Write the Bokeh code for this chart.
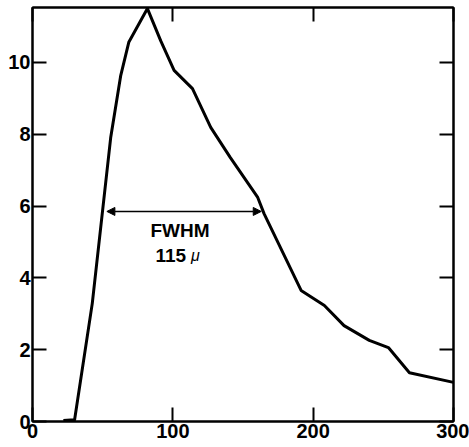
from bokeh.plotting import figure
from bokeh.models import Range1d, LinearAxis, FixedTicker, Label, Arrow, NormalHead
from bokeh.embed import file_html
from bokeh.resources import INLINE

# Data
pos = [22, 30, 42.6, 55.7, 62.9, 68.6, 81.9, 91.4, 100.9, 114, 127, 141,
       160.5, 165, 191.4, 208, 222, 240, 253.6, 268.6, 300]
intensity = [0.03, 0.05, 3.29, 7.9, 9.64, 10.56, 11.5, 10.6, 9.78, 9.27, 8.19,
             7.35, 6.24, 5.79, 3.65, 3.23, 2.67, 2.26, 2.06, 1.36, 1.09]
x_ticks = [0, 100, 200, 300]
y_ticks = [0, 2, 4, 6, 8, 10]
fwhm_left = 53
fwhm_right = 163
fwhm_level = 5.85
fwhm_text = "FWHM"
fwhm_value = "115"
fwhm_unit = "μ"

FONT = "Liberation Sans"

p = figure(width=469, height=447, output_backend="svg", toolbar_location=None,
           x_range=Range1d(0, 300), y_range=Range1d(0, 11.53),
           min_border_left=32, min_border_right=16, min_border_top=7,
           min_border_bottom=26, x_axis_location="below", y_axis_location="left")
p.background_fill_color = "white"
p.border_fill_color = "white"
p.outline_line_color = "black"
p.outline_line_width = 2
p.xgrid.visible = False
p.ygrid.visible = False

p.add_layout(LinearAxis(), "right")
p.add_layout(LinearAxis(), "above")

for ax in p.xaxis:
    ax.ticker = FixedTicker(ticks=x_ticks)
for ax in p.yaxis:
    ax.ticker = FixedTicker(ticks=y_ticks)

for ax in p.axis:
    ax.axis_line_width = 2
    ax.axis_line_color = "black"
    ax.major_tick_in = 14
    ax.major_tick_out = 0
    ax.major_tick_line_width = 2
    ax.major_tick_line_color = "black"
    ax.minor_tick_line_color = None
    ax.major_label_text_font = FONT
    ax.major_label_text_font_style = "bold"
    ax.major_label_text_font_size = "20px"
    ax.major_label_text_color = "black"
    ax.major_label_standoff = 2

p.right[0].major_label_overrides = {t: "" for t in y_ticks}
p.above[0].major_label_overrides = {t: "" for t in x_ticks}
p.right[0].major_label_standoff = 0
p.above[0].major_label_standoff = 0

p.line(pos, intensity, line_width=3, line_color="black", line_join="round")

p.add_layout(Arrow(x_start=fwhm_left, y_start=fwhm_level, x_end=fwhm_right,
                   y_end=fwhm_level, line_width=1.5, line_color="black",
                   start=NormalHead(size=8, fill_color="black", line_color="black"),
                   end=NormalHead(size=8, fill_color="black", line_color="black")))

cx = (fwhm_left + fwhm_right) / 2
p.add_layout(Label(x=cx, y=fwhm_level, text=fwhm_text, text_align="center",
                   text_baseline="alphabetic", y_offset=-19, x_offset=-4,
                   text_font=FONT, text_font_style="bold", text_font_size="19px",
                   text_color="black"))
p.add_layout(Label(x=cx, y=fwhm_level, text=fwhm_value, text_align="right",
                   text_baseline="alphabetic", y_offset=-44, x_offset=2,
                   text_font=FONT, text_font_style="bold", text_font_size="19px",
                   text_color="black"))
p.add_layout(Label(x=cx, y=fwhm_level, text=fwhm_unit, text_align="left",
                   text_baseline="alphabetic", y_offset=-44, x_offset=7,
                   text_font=FONT, text_font_style="italic", text_font_size="16px",
                   text_color="black"))

open("out.html", "w").write(file_html(p, INLINE))
